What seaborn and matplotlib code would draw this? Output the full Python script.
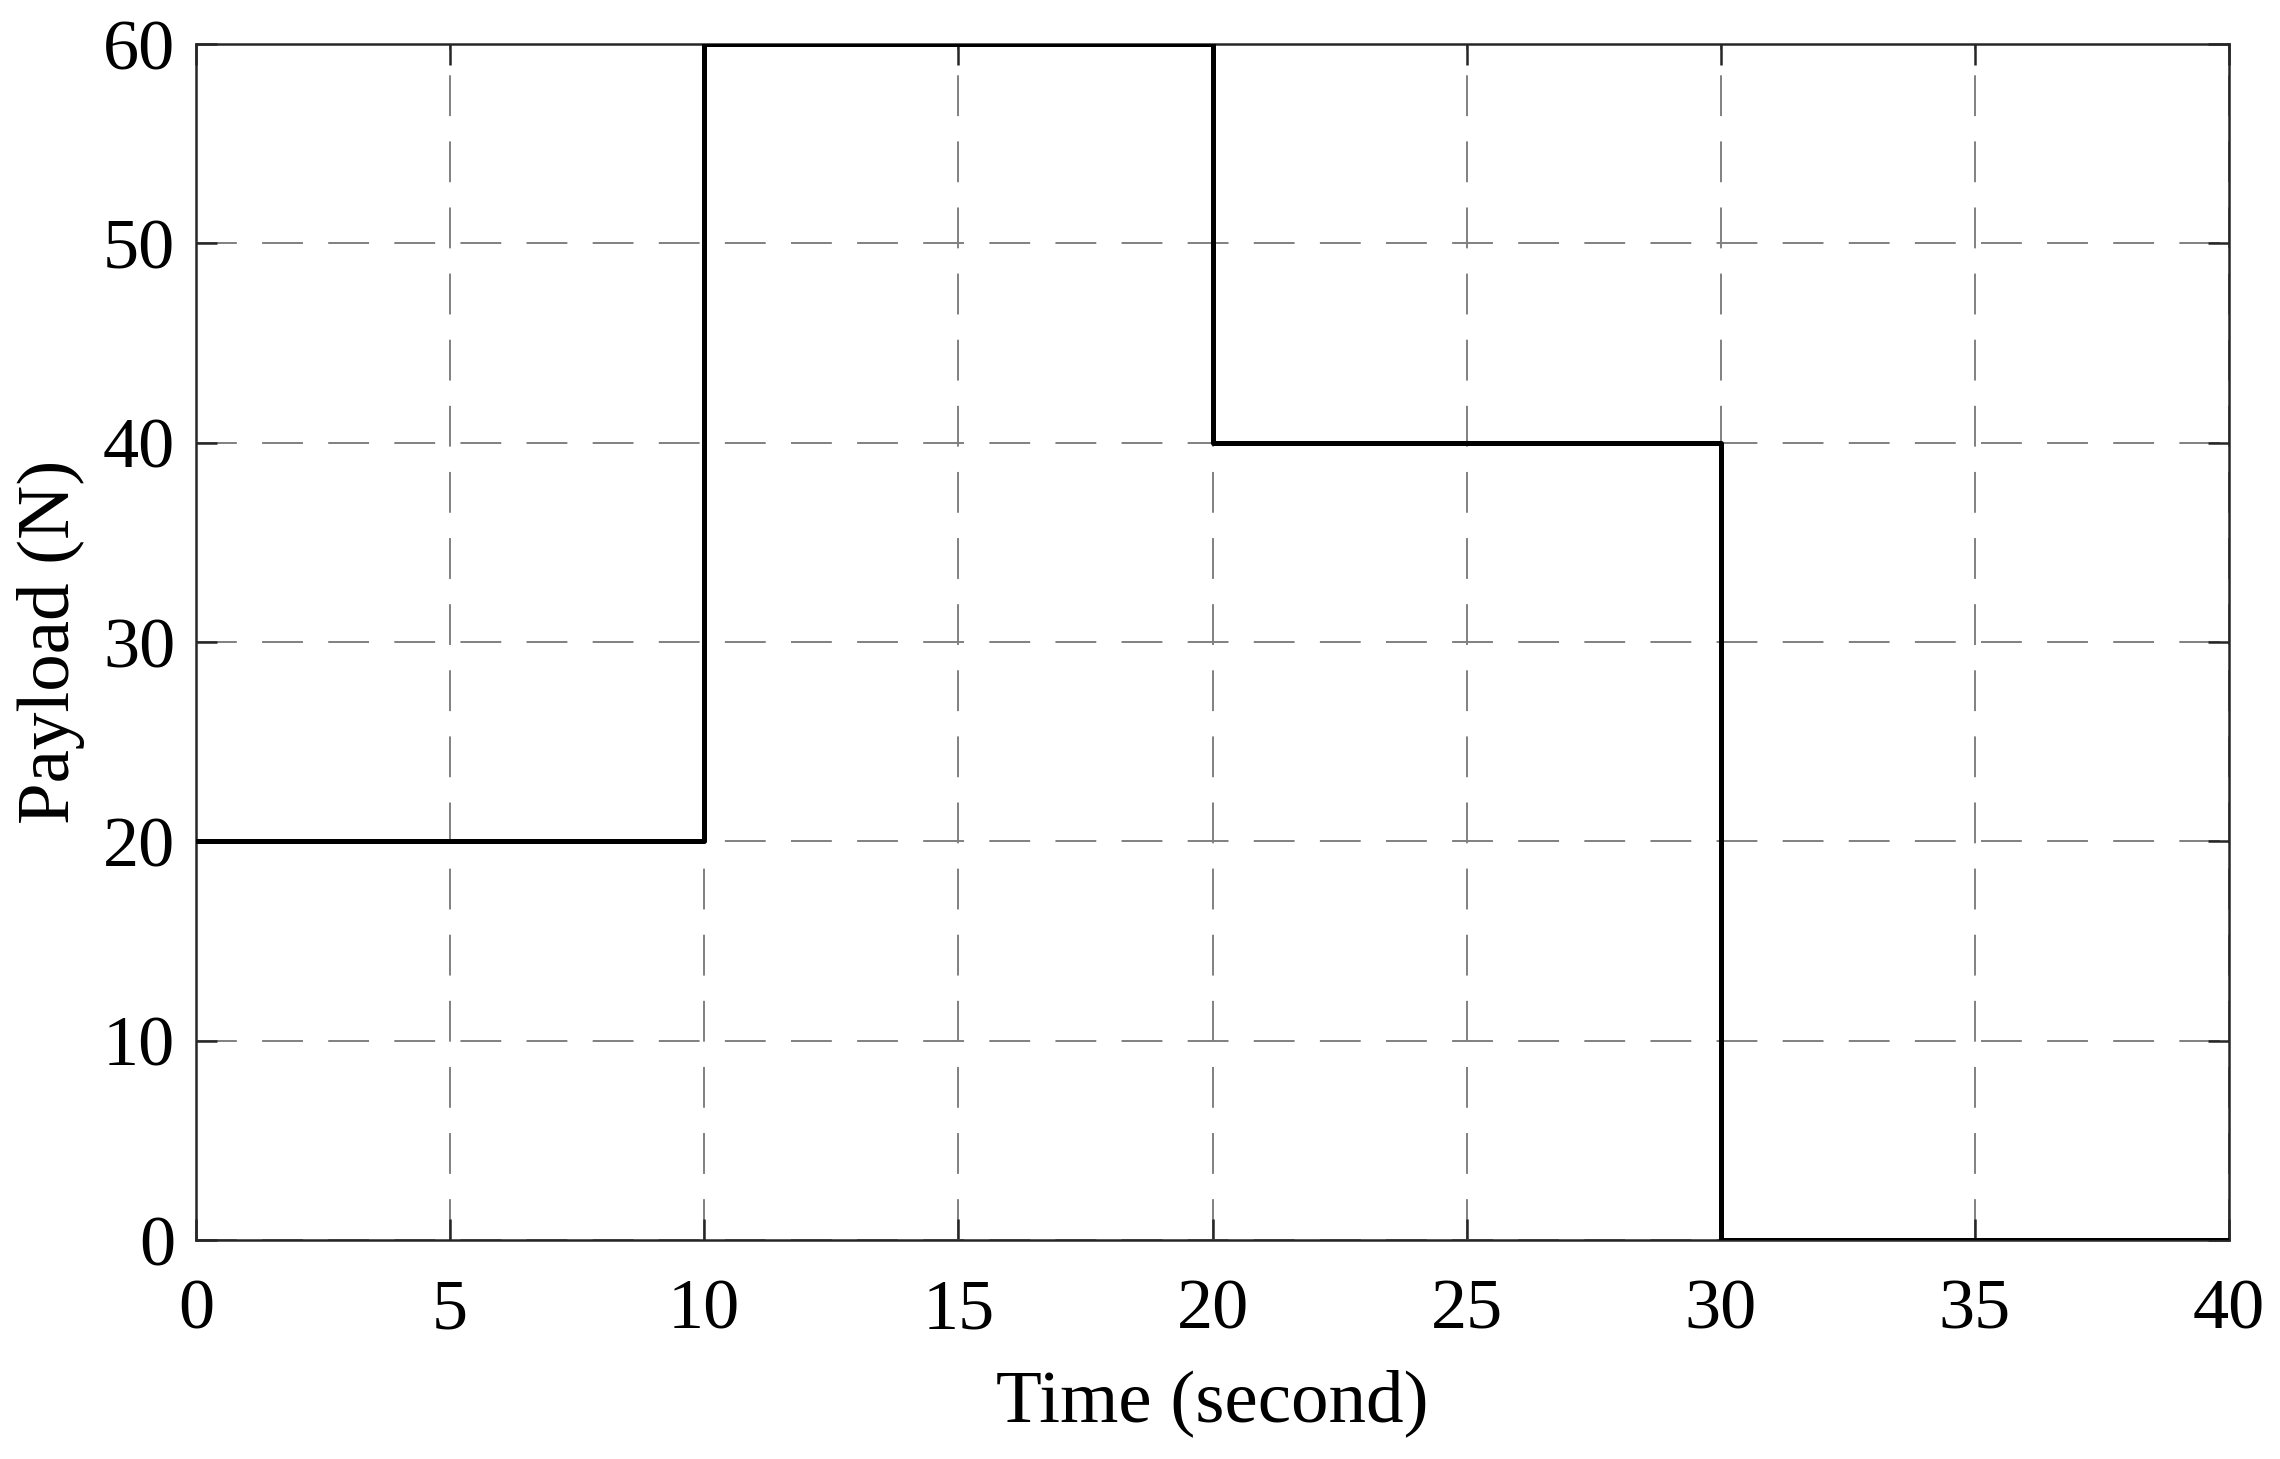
import matplotlib
matplotlib.use("Agg")
import matplotlib.pyplot as plt
import seaborn as sns
import pandas as pd

time_s = [0, 10, 20, 30, 40]
payload_n = [20, 60, 40, 0, 0]
x_ticks = [0, 5, 10, 15, 20, 25, 30, 35, 40]
y_ticks = [0, 10, 20, 30, 40, 50, 60]

sns.set_theme(style="white")
plt.rcParams['font.family'] = ['Liberation Serif', 'DejaVu Serif']
plt.rcParams['mathtext.fontset'] = 'stix'

df = pd.DataFrame({"t": time_s, "p": payload_n})

fig = plt.figure(figsize=(22.8, 14.59), dpi=100)
ax = fig.add_axes([196/2280, 1 - 1240/1459, (2229-196)/2280, (1240-44)/1459])

sns.lineplot(data=df, x="t", y="p", ax=ax, color="black", linewidth=3.6,
             drawstyle="steps-post", zorder=3)

ax.set_xlim(0, 40)
ax.set_ylim(0, 60)
ax.set_xticks(x_ticks)
ax.set_yticks(y_ticks)
ax.grid(True, color="#808080", linestyle=(0, (21, 13)), linewidth=1.4)
ax.set_axisbelow(True)
for s in ax.spines.values():
    s.set_color("#262626")
    s.set_linewidth(1.8)
    s.set_visible(True)
ax.tick_params(direction="in", length=15, width=1.8, color="#262626",
               top=True, right=True, bottom=True, left=True,
               labelsize=52, labelcolor="black")
ax.tick_params(axis="x", pad=28)
ax.tick_params(axis="y", pad=15)
ax.set_xlabel("Time (second)", fontsize=54, color="black", labelpad=18)
ax.set_ylabel("Payload (N)", fontsize=54, color="black", labelpad=13)

fig.savefig("out.png", dpi=100)
